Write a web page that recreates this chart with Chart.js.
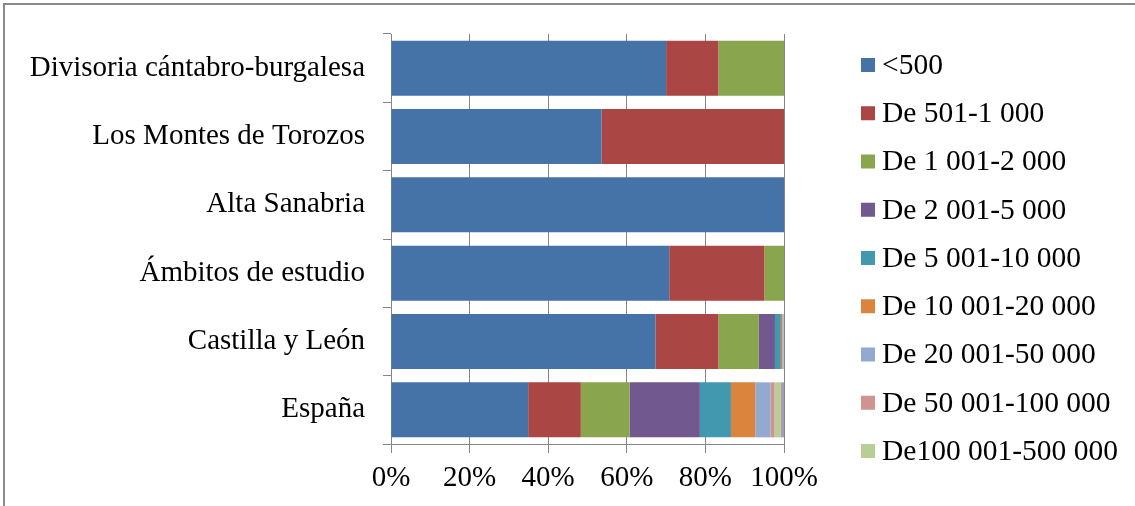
<!DOCTYPE html>
<html>
<head>
<meta charset="utf-8">
<script src="https://cdn.jsdelivr.net/npm/chart.js@4"></script>
<style>
  body { margin: 0; background: #fff; }
  #marco {
    position: absolute; left: 3px; top: 3px;
    width: 1132px; height: 503px;
    border-left: 2px solid #8a8a8a; border-top: 2px solid #8a8a8a;
    box-sizing: border-box;
  }
  #grafico { display: block; }
</style>
</head>
<body>
<div id="marco"><canvas id="grafico" width="1130" height="501"></canvas></div>
<script>
const ambitos = ['Divisoria cántabro-burgalesa', 'Los Montes de Torozos', 'Alta Sanabria', 'Ámbitos de estudio', 'Castilla y León', 'España'];
const tramos = ['<500', 'De 501-1 000', 'De 1 001-2 000', 'De 2 001-5 000', 'De 5 001-10 000', 'De 10 001-20 000', 'De 20 001-50 000', 'De 50 001-100 000', 'De100 001-500 000', '>500 000'];
const colores = ['#4572a7', '#aa4643', '#89a54e', '#71588f', '#4198af', '#db843d', '#93a9cf', '#d19392', '#b9cd96', '#a99bbd'];
const ticksX = [0, 20, 40, 60, 80, 100];

// % de municipios por tramo de población
const menos500 = [70.0, 53.6, 100, 70.8, 67.3, 34.9];
const de501a1000 = [13.3, 46.4, 0, 24.2, 16.0, 13.4];
const de1001a2000 = [16.7, 0, 0, 5.0, 10.3, 12.4];
const de2001a5000 = [0, 0, 0, 0, 4.1, 17.9];
const de5001a10000 = [0, 0, 0, 0, 1.5, 7.9];
const de10001a20000 = [0, 0, 0, 0, 0.3, 6.2];
const de20001a50000 = [0, 0, 0, 0, 0.2, 3.9];
const de50001a100000 = [0, 0, 0, 0, 0.2, 1.0];
const de100001a500000 = [0, 0, 0, 0, 0.1, 1.6];
const mas500000 = [0, 0, 0, 0, 0, 0.8];

const series = [menos500, de501a1000, de1001a2000, de2001a5000, de5001a10000, de10001a20000, de20001a50000, de50001a100000, de100001a500000, mas500000];
const enLeyenda = 9;

Chart.defaults.font.family = "'Liberation Serif', 'Times New Roman', serif";
Chart.defaults.font.size = 29;
Chart.defaults.color = '#000';

const leyenda = {
  id: 'leyenda',
  afterDraw(chart) {
    const ctx = chart.ctx;
    ctx.save();
    ctx.font = "29.5px 'Liberation Serif', serif";
    ctx.textBaseline = 'middle';
    ctx.textAlign = 'left';
    chart.data.datasets.slice(0, enLeyenda).forEach((ds, i) => {
      const y = 60 + i * 48.25;
      ctx.fillStyle = ds.backgroundColor;
      ctx.fillRect(856, y - 7, 14, 14);
      ctx.fillStyle = '#000';
      ctx.fillText(ds.label, 877, y + 1);
    });
    ctx.restore();
  }
};

const grafico = document.getElementById('grafico');
new Chart(grafico, {
  type: 'bar',
  data: {
    labels: ambitos,
    datasets: series.map((valores, i) => ({
      label: tramos[i],
      data: valores,
      backgroundColor: colores[i],
      borderWidth: 0,
      barPercentage: 1,
      categoryPercentage: 0.805
    }))
  },
  options: {
    responsive: false,
    animation: false,
    indexAxis: 'y',
    layout: { padding: { left: 0, top: 29, right: 351, bottom: 0 } },
    plugins: { legend: { display: false }, tooltip: { enabled: false } },
    scales: {
      x: {
        stacked: true,
        min: 0,
        max: 100,
        afterBuildTicks: (s) => { s.ticks = ticksX.map(v => ({ value: v })); },
        afterFit: (s) => { s.height = 62; s.paddingLeft = 0; s.paddingRight = 0; },
        grid: { color: '#868686', lineWidth: 1, tickLength: 9 },
        border: { color: '#868686' },
        ticks: { padding: 8, maxRotation: 0, callback: (v) => v + '%' }
      },
      y: {
        stacked: true,
        afterFit: (s) => { s.width = 386; s.paddingTop = 0; s.paddingBottom = 0; },
        grid: { offset: true, drawOnChartArea: false, color: '#868686', tickLength: 8 },
        border: { color: '#868686' },
        ticks: { padding: 18 }
      }
    }
  },
  plugins: [leyenda]
});
</script>
</body>
</html>
